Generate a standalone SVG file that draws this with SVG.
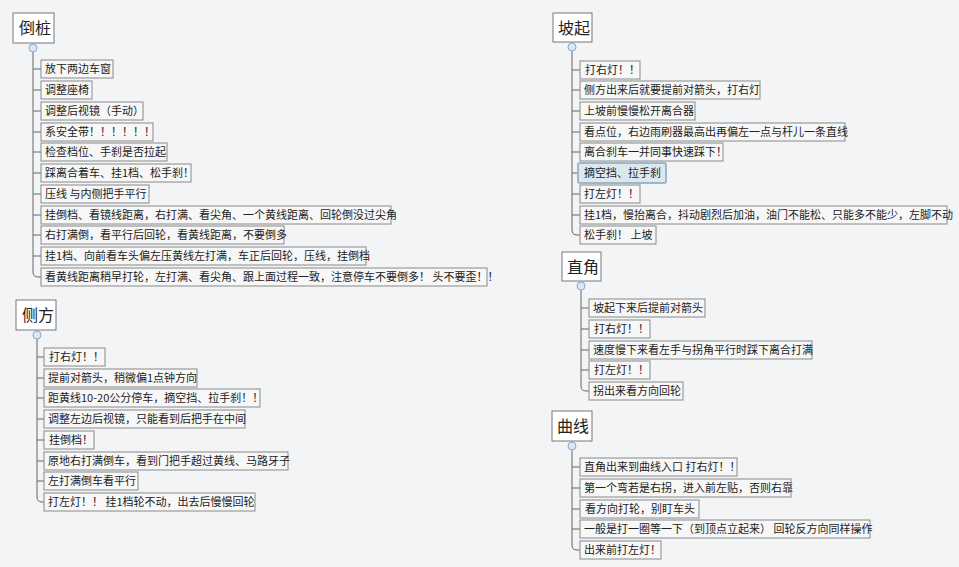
<svg xmlns="http://www.w3.org/2000/svg" width="959" height="567" viewBox="0 0 959 567">
<style>
text{font-family:"Noto Sans CJK SC","Liberation Sans",sans-serif;fill:#222}
.t rect{fill:#fff;stroke:#777;stroke-width:1}
.t text{font-size:16px}
.i rect{fill:#f7f7f7;stroke:#888;stroke-width:1}
.i text{font-size:11px}
.c line,.c path{stroke:#666;stroke-width:1;fill:none}
.c circle{fill:#dbe7f5;stroke:#8aa8cc;stroke-width:1}
</style>
<rect width="959" height="567" fill="#f3f4f6"/>
<g class="c">
<path d="M33,52 V272 Q33,277 38,277 H41"/>
<line x1="33" y1="69" x2="41" y2="69"/><line x1="33" y1="90" x2="41" y2="90"/><line x1="33" y1="111" x2="41" y2="111"/><line x1="33" y1="132" x2="41" y2="132"/><line x1="33" y1="152" x2="41" y2="152"/><line x1="33" y1="173" x2="41" y2="173"/><line x1="33" y1="194" x2="41" y2="194"/><line x1="33" y1="215" x2="41" y2="215"/><line x1="33" y1="235" x2="41" y2="235"/><line x1="33" y1="256" x2="41" y2="256"/>
<circle cx="33" cy="48" r="4"/>
<path d="M37,339 V497 Q37,502 42,502 H44"/>
<line x1="37" y1="357" x2="44" y2="357"/><line x1="37" y1="378" x2="44" y2="378"/><line x1="37" y1="398" x2="44" y2="398"/><line x1="37" y1="419" x2="44" y2="419"/><line x1="37" y1="440" x2="44" y2="440"/><line x1="37" y1="461" x2="44" y2="461"/><line x1="37" y1="481" x2="44" y2="481"/>
<circle cx="37" cy="335" r="4"/>
<path d="M572,51 V230 Q572,235 577,235 H580"/>
<line x1="572" y1="70" x2="580" y2="70"/><line x1="572" y1="90" x2="580" y2="90"/><line x1="572" y1="111" x2="580" y2="111"/><line x1="572" y1="132" x2="580" y2="132"/><line x1="572" y1="152" x2="580" y2="152"/><line x1="572" y1="173" x2="578" y2="173"/><line x1="572" y1="194" x2="580" y2="194"/><line x1="572" y1="215" x2="580" y2="215"/>
<circle cx="572" cy="47" r="4"/>
<path d="M581,290 V386 Q581,391 586,391 H589"/>
<line x1="581" y1="308" x2="589" y2="308"/><line x1="581" y1="329" x2="589" y2="329"/><line x1="581" y1="350" x2="589" y2="350"/><line x1="581" y1="370" x2="589" y2="370"/>
<circle cx="581" cy="286" r="4"/>
<path d="M572,450 V545 Q572,550 577,550 H580"/>
<line x1="572" y1="467" x2="580" y2="467"/><line x1="572" y1="488" x2="580" y2="488"/><line x1="572" y1="509" x2="580" y2="509"/><line x1="572" y1="529" x2="580" y2="529"/>
<circle cx="572" cy="446" r="4"/>
</g>
<g id="daozhuang" class="t"><rect x="13" y="13" width="41" height="30"/><text x="19" y="34">倒桩</text></g>
<g id="d1" class="i"><rect x="41" y="60" width="72" height="18"/><text x="45" y="73">放下两边车窗</text></g>
<g id="d2" class="i"><rect x="41" y="81" width="51" height="18"/><text x="45" y="94">调整座椅</text></g>
<g id="d3" class="i"><rect x="41" y="102" width="102" height="18"/><text x="45" y="115">调整后视镜（手动）</text></g>
<g id="d4" class="i"><rect x="41" y="123" width="112" height="18"/><text x="45" y="136">系安全带！！！！！！</text></g>
<g id="d5" class="i"><rect x="41" y="143" width="126" height="18"/><text x="45" y="156">检查档位、手刹是否拉起</text></g>
<g id="d6" class="i"><rect x="41" y="164" width="150" height="18"/><text x="45" y="177">踩离合着车、挂1档、松手刹！</text></g>
<g id="d7" class="i"><rect x="41" y="185" width="108" height="18"/><text x="45" y="198">压线 与内侧把手平行</text></g>
<g id="d8" class="i"><rect x="41" y="206" width="350" height="18"/><text x="45" y="219">挂倒档、看镜线距离，右打满、看尖角、一个黄线距离、回轮倒没过尖角</text></g>
<g id="d9" class="i"><rect x="41" y="226" width="243" height="18"/><text x="45" y="239">右打满倒，看平行后回轮，看黄线距离，不要倒多</text></g>
<g id="d10" class="i"><rect x="41" y="247" width="325" height="18"/><text x="45" y="260">挂1档、向前看车头偏左压黄线左打满，车正后回轮，压线，挂倒档</text></g>
<g id="d11" class="i"><rect x="41" y="268" width="446" height="18"/><text x="45" y="281">看黄线距离稍早打轮，左打满、看尖角、跟上面过程一致，注意停车不要倒多！ 头不要歪！！</text></g>
<g id="cefang" class="t"><rect x="16" y="300" width="40" height="30"/><text x="22" y="321">侧方</text></g>
<g id="c1" class="i"><rect x="44" y="348" width="61" height="18"/><text x="49" y="361">打右灯！！</text></g>
<g id="c2" class="i"><rect x="44" y="369" width="153" height="18"/><text x="48" y="382">提前对箭头，稍微偏1点钟方向</text></g>
<g id="c3" class="i"><rect x="44" y="389" width="216" height="18"/><text x="48" y="402">距黄线10-20公分停车，摘空挡、拉手刹！！</text></g>
<g id="c4" class="i"><rect x="44" y="410" width="201" height="18"/><text x="48" y="423">调整左边后视镜，只能看到后把手在中间</text></g>
<g id="c5" class="i"><rect x="44" y="431" width="50" height="18"/><text x="49" y="444">挂倒档！</text></g>
<g id="c6" class="i"><rect x="44" y="452" width="244" height="18"/><text x="48" y="465">原地右打满倒车，看到门把手超过黄线、马路牙子</text></g>
<g id="c7" class="i"><rect x="44" y="472" width="94" height="18"/><text x="48" y="485">左打满倒车看平行</text></g>
<g id="c8" class="i"><rect x="44" y="493" width="211" height="18"/><text x="48" y="506">打左灯！！ 挂1档轮不动，出去后慢慢回轮</text></g>
<g id="poqi" class="t"><rect x="553" y="13" width="39" height="29"/><text x="558" y="34">坡起</text></g>
<g id="p1" class="i"><rect x="580" y="61" width="60" height="18"/><text x="585" y="74">打右灯！！</text></g>
<g id="p2" class="i"><rect x="580" y="81" width="180" height="18"/><text x="584" y="94">侧方出来后就要提前对箭头，打右灯</text></g>
<g id="p3" class="i"><rect x="580" y="102" width="115" height="18"/><text x="584" y="115">上坡前慢慢松开离合器</text></g>
<g id="p4" class="i"><rect x="580" y="123" width="265" height="18"/><text x="584" y="136">看点位，右边雨刷器最高出再偏左一点与杆儿一条直线</text></g>
<g id="p5" class="i"><rect x="580" y="143" width="143" height="18"/><text x="584" y="156">离合刹车一并同事快速踩下！</text></g>
<g id="p6" class="i"><rect x="578" y="163" width="88" height="20" rx="2" style="fill:#dde8ee;stroke:#9bb7c8;stroke-width:2"/><text x="584" y="177">摘空挡、拉手刹</text></g>
<g id="p7" class="i"><rect x="580" y="185" width="60" height="18"/><text x="584" y="198">打左灯！！</text></g>
<g id="p8" class="i"><rect x="580" y="206" width="367" height="18"/><text x="584" y="219">挂1档，慢抬离合，抖动剧烈后加油，油门不能松、只能多不能少，左脚不动</text></g>
<g id="p9" class="i"><rect x="580" y="226" width="76" height="18"/><text x="584" y="239">松手刹！ 上坡</text></g>
<g id="zhijiao" class="t"><rect x="562" y="252" width="39" height="29"/><text x="567" y="273">直角</text></g>
<g id="z1" class="i"><rect x="589" y="299" width="116" height="18"/><text x="593" y="312">坡起下来后提前对箭头</text></g>
<g id="z2" class="i"><rect x="589" y="320" width="61" height="18"/><text x="594" y="333">打右灯！！</text></g>
<g id="z3" class="i"><rect x="589" y="341" width="223" height="18"/><text x="593" y="354">速度慢下来看左手与拐角平行时踩下离合打满</text></g>
<g id="z4" class="i"><rect x="589" y="361" width="61" height="18"/><text x="594" y="374">打左灯！！</text></g>
<g id="z5" class="i"><rect x="589" y="382" width="94" height="18"/><text x="593" y="395">拐出来看方向回轮</text></g>
<g id="quxian" class="t"><rect x="552" y="411" width="40" height="30"/><text x="557" y="432">曲线</text></g>
<g id="q1" class="i"><rect x="580" y="458" width="157" height="18"/><text x="584" y="471">直角出来到曲线入口 打右灯！！</text></g>
<g id="q2" class="i"><rect x="580" y="479" width="211" height="18"/><text x="584" y="492">第一个弯若是右拐，进入前左贴，否则右靠</text></g>
<g id="q3" class="i"><rect x="580" y="500" width="119" height="18"/><text x="585" y="513">看方向打轮，别盯车头</text></g>
<g id="q4" class="i"><rect x="580" y="520" width="290" height="18"/><text x="584" y="533">一般是打一圈等一下（到顶点立起来） 回轮反方向同样操作</text></g>
<g id="q5" class="i"><rect x="580" y="541" width="81" height="18"/><text x="584" y="554">出来前打左灯！</text></g>
</svg>
